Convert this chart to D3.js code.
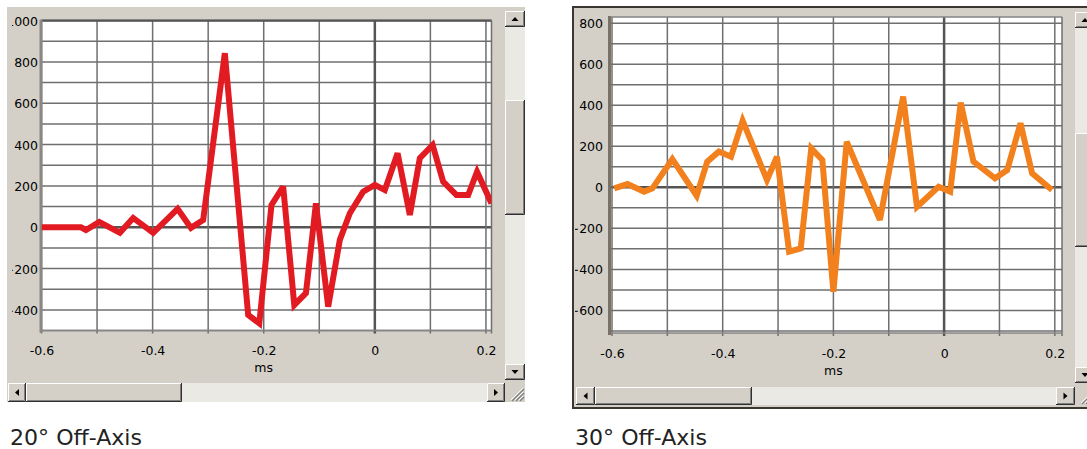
<!DOCTYPE html>
<html><head><meta charset="utf-8">
<script src="https://cdn.jsdelivr.net/npm/d3@7"></script>
<style>
html,body{margin:0;padding:0;background:#fff;}
svg{display:block;}
</style></head>
<body>
<svg id="c" width="1087" height="449"></svg>
<script>
// ---------- data ----------
const redX = [-0.6, -0.529, -0.52, -0.496, -0.459, -0.435, -0.399, -0.355, -0.331, -0.309, -0.27, -0.228, -0.208, -0.186, -0.165, -0.145, -0.124, -0.106, -0.084, -0.063, -0.045, -0.021, 0.0, 0.018, 0.041, 0.063, 0.081, 0.104, 0.123, 0.147, 0.168, 0.184, 0.21];
const redY = [0, 0, -13, 26, -27, 45, -27, 89, -3, 35, 842, -424, -465, 108, 197, -376, -319, 116, -384, -61, 68, 172, 205, 180, 358, 60, 334, 398, 221, 156, 156, 269, 115];

const orangeX = [-0.596, -0.572, -0.542, -0.527, -0.491, -0.447, -0.428, -0.407, -0.385, -0.364, -0.320, -0.302, -0.280, -0.259, -0.240, -0.220, -0.200, -0.176, -0.116, -0.074, -0.049, -0.010, 0.011, 0.030, 0.053, 0.092, 0.114, 0.138, 0.159, 0.195];
const orangeY = [-5, 16, -21, -5, 137, -41, 125, 174, 149, 325, 36, 149, -314, -298, 190, 133, -509, 222, -159, 442, -95, 3, -21, 413, 125, 44, 84, 312, 68, -13];

const xTickValues = [-0.6, -0.4, -0.2, 0, 0.2];
const xTickLabels = ["-0.6", "-0.4", "-0.2", "0", "0.2"];
const leftYTicks = [1000, 800, 600, 400, 200, 0, -200, -400];
const rightYTicks = [800, 600, 400, 200, 0, -200, -400, -600];
const xUnit = "ms";
const captions = ["20\u00B0 Off-Axis", "30\u00B0 Off-Axis"];

// ---------- drawing ----------
const svg = d3.select("#c");
const BEIGE = "#d4d0c8", TRACK = "#ebe9e3";
const FONT = "DejaVu Sans, Verdana, sans-serif";

function button(g, x, y, w, h, arrow) {
  const b = g.append("g");
  b.append("rect").attr("x", x).attr("y", y).attr("width", w).attr("height", h).attr("fill", BEIGE);
  b.append("path").attr("d", `M${x+0.5},${y+h-1}V${y+0.5}H${x+w-1}`).attr("stroke", "#fff").attr("fill", "none");
  b.append("path").attr("d", `M${x},${y+h-0.5}H${x+w-0.5}V${y}`).attr("stroke", "#303030").attr("fill", "none");
  b.append("path").attr("d", `M${x+1},${y+h-1.5}H${x+w-1.5}V${y+1}`).attr("stroke", "#808080").attr("fill", "none");
  const cx = x + w / 2, cy = y + h / 2;
  let p = null;
  if (arrow === "up") p = `M${cx-3.5},${cy+2}L${cx+3.5},${cy+2}L${cx},${cy-2}Z`;
  if (arrow === "down") p = `M${cx-3.5},${cy-2}L${cx+3.5},${cy-2}L${cx},${cy+2}Z`;
  if (arrow === "left") p = `M${cx+2},${cy-3.5}L${cx+2},${cy+3.5}L${cx-2},${cy}Z`;
  if (arrow === "right") p = `M${cx-2},${cy-3.5}L${cx-2},${cy+3.5}L${cx+2},${cy}Z`;
  if (p) b.append("path").attr("d", p).attr("fill", "#000");
}

function grip(g, x, y, w, h) {
  g.append("rect").attr("x", x).attr("y", y).attr("width", w).attr("height", h).attr("fill", BEIGE);
  for (let i = 0; i < 3; i++) {
    const o = 4 + i * 4;
    g.append("line").attr("x1", x + w - 2).attr("y1", y + h - 2 - o).attr("x2", x + w - 2 - o).attr("y2", y + h - 2)
      .attr("stroke", "#fff").attr("stroke-width", 1);
    g.append("line").attr("x1", x + w - 1).attr("y1", y + h - 1 - o).attr("x2", x + w - 1 - o).attr("y2", y + h - 1)
      .attr("stroke", "#808080").attr("stroke-width", 1.2);
  }
}

function chart(cfg) {
  const g = svg.append("g");
  const clipId = "clip" + cfg.id;
  svg.append("clipPath").attr("id", clipId).append("rect")
    .attr("x", cfg.panel[0]).attr("y", cfg.panel[1]).attr("width", cfg.panel[2]).attr("height", cfg.panel[3]);
  const pg = g.append("g").attr("clip-path", `url(#${clipId})`);

  pg.append("rect").attr("x", cfg.panel[0]).attr("y", cfg.panel[1]).attr("width", cfg.panel[2]).attr("height", cfg.panel[3])
    .attr("fill", BEIGE);

  const x = d3.scaleLinear().domain(cfg.xDomain).range([cfg.plot[0], cfg.plot[1]]);
  const y = d3.scaleLinear().domain(cfg.yDomain).range([cfg.plot[3], cfg.plot[2]]);
  const px0 = cfg.plot[0] - cfg.leftPad, px1 = cfg.plot[1], py0 = cfg.plot[2], py1 = cfg.plot[3];

  pg.append("rect").attr("x", px0).attr("y", py0).attr("width", px1 - px0).attr("height", py1 - py0).attr("fill", "#fff");

  const GRID = "#6f6f6f", ZERO = "#555";
  const yGrid = d3.range(-1000, 1100, 100).filter(v => v >= cfg.yDomain[0] - 1e-6 && v <= cfg.yDomain[1] + 1e-6);
  const xGrid = d3.range(-6, 3, 1).map(v => v / 10).filter(v => v >= cfg.xDomain[0] - 1e-6 && v <= cfg.xDomain[1] + 1e-6);
  const grid = pg.append("g");
  grid.selectAll("line.h").data(yGrid).join("line")
    .attr("x1", px0).attr("x2", px1)
    .attr("y1", d => y(d)).attr("y2", d => y(d))
    .attr("stroke", d => d === 0 ? ZERO : GRID)
    .attr("stroke-width", d => d === 0 ? 2.5 : 1.5);
  grid.selectAll("line.v").data(xGrid).join("line")
    .attr("x1", d => x(d)).attr("x2", d => x(d))
    .attr("y1", py0).attr("y2", py1 + 3)
    .attr("stroke", d => Math.abs(d) < 1e-9 ? ZERO : GRID)
    .attr("stroke-width", d => Math.abs(d) < 1e-9 ? 2.5 : 1.5);
  pg.append("line").attr("x1", px0).attr("x2", px1).attr("y1", py0).attr("y2", py0)
    .attr("stroke", cfg.topColor).attr("stroke-width", cfg.topWidth);
  pg.append("line").attr("x1", px1).attr("x2", px1).attr("y1", py0).attr("y2", py1 + 3)
    .attr("stroke", GRID).attr("stroke-width", 1.5);
  pg.append("line").attr("x1", px0).attr("x2", px1).attr("y1", py1).attr("y2", py1)
    .attr("stroke", "#858585").attr("stroke-width", 1.5);
  pg.append("rect").attr("x", px0 - 2).attr("y", py0 - 1).attr("width", 3).attr("height", py1 - py0 + 3)
    .attr("fill", cfg.leftBorder);

  // series
  const pts = cfg.xs.map((v, i) => [v, cfg.ys[i]]);
  const line = d3.line().x(d => x(d[0])).y(d => y(d[1]));
  const plotClip = "pclip" + cfg.id;
  svg.append("clipPath").attr("id", plotClip).append("rect")
    .attr("x", px0).attr("y", py0 - 6).attr("width", px1 - px0).attr("height", py1 - py0 + 12);
  pg.append("path").datum(pts).attr("d", line)
    .attr("clip-path", `url(#${plotClip})`)
    .attr("fill", "none").attr("stroke", cfg.color).attr("stroke-width", 6)
    .attr("stroke-linejoin", "miter").attr("stroke-miterlimit", 3).attr("stroke-linecap", "butt");

  // y axis labels (clipped on the left like the original window)
  const labClip = "lclip" + cfg.id;
  svg.append("clipPath").attr("id", labClip).append("rect")
    .attr("x", cfg.labelClipX).attr("y", 0).attr("width", 2000).attr("height", 449);
  const yAx = d3.axisLeft(y).tickValues(cfg.yTicks).tickFormat(d3.format("d")).tickSize(0).tickPadding(0);
  const ywrap = pg.append("g").attr("clip-path", `url(#${labClip})`);
  const ya = ywrap.append("g").attr("transform", `translate(${cfg.labelX},0)`).call(yAx);
  ya.select(".domain").remove();
  ya.selectAll("text").attr("font-family", FONT).attr("font-size", 12.5)
    .attr("fill", "#000").attr("dy", "0.36em");

  // x axis labels
  const xAx = d3.axisBottom(x).tickValues(xTickValues).tickFormat((d, i) => xTickLabels[i]).tickSize(0).tickPadding(0);
  const xa = pg.append("g").attr("transform", `translate(0,${cfg.xLabelY})`).call(xAx);
  xa.select(".domain").remove();
  xa.selectAll("text").attr("font-family", FONT).attr("font-size", 12.5)
    .attr("fill", "#000").attr("dy", "0.36em").attr("y", 0);
  pg.append("text").attr("x", x(-0.2)).attr("y", cfg.xLabelY + 17).attr("dy", "0.36em")
    .attr("text-anchor", "middle").attr("font-family", FONT).attr("font-size", 12.5)
    .attr("fill", "#000").text(xUnit);

  // scrollbars
  const s = cfg.sb;
  pg.append("rect").attr("x", s.vx).attr("y", s.vTop).attr("width", s.vw).attr("height", s.vBot - s.vTop).attr("fill", TRACK);
  button(pg, s.vx, s.vTop - s.btn, s.vw, s.btn, "up");
  button(pg, s.vx, s.thumbV[0], s.vw, s.thumbV[1] - s.thumbV[0], null);
  button(pg, s.vx, s.vBot, s.vw, s.btn, "down");
  pg.append("rect").attr("x", s.hLeft).attr("y", s.hy).attr("width", s.hRight - s.hLeft).attr("height", s.hh).attr("fill", TRACK);
  button(pg, s.hLeft - s.btnW, s.hy, s.btnW, s.hh, "left");
  button(pg, s.thumbH[0], s.hy, s.thumbH[1] - s.thumbH[0], s.hh, null);
  button(pg, s.hRight, s.hy, s.btnW, s.hh, "right");
  grip(pg, s.vx, s.hy, s.vw, s.hh);

  if (cfg.frame) {
    g.append("rect").attr("x", cfg.panel[0] - 1).attr("y", cfg.panel[1] - 1)
      .attr("width", cfg.panel[2] + 2).attr("height", cfg.panel[3] + 2)
      .attr("fill", "none").attr("stroke", "#3a3630").attr("stroke-width", 2);
  }

  svg.append("text").attr("x", cfg.capX).attr("y", 445)
    .attr("font-family", "DejaVu Sans, sans-serif").attr("font-size", 21)
    .attr("textLength", 132).attr("lengthAdjust", "spacingAndGlyphs")
    .attr("fill", "#222").text(cfg.caption);
}

chart({
  id: "L", panel: [7, 7, 518, 395],
  plot: [41.5, 491.5, 20.6, 330.6], leftPad: 0,
  xDomain: [-0.6, 0.21], yDomain: [-500, 1000],
  xs: redX, ys: redY, color: "#e21b22",
  yTicks: leftYTicks, labelX: 38, labelClipX: 12, xLabelY: 350,
  topColor: "#555", topWidth: 2.4, leftBorder: "#8c8881",
  sb: { vx: 505, vw: 20, vTop: 27, vBot: 364, btn: 16, thumbV: [100, 215],
        hy: 383, hh: 19, hLeft: 26, hRight: 487, btnW: 18, thumbH: [26, 182] },
  frame: false, capX: 10, caption: captions[0]
});

chart({
  id: "R", panel: [574, 8, 520, 399],
  plot: [612, 1062, 17, 333], leftPad: 2,
  xDomain: [-0.6, 0.213], yDomain: [-710, 830],
  xs: orangeX, ys: orangeY, color: "#f2801c",
  yTicks: rightYTicks, labelX: 603, labelClipX: 575, xLabelY: 353,
  topColor: "#858585", topWidth: 1.5, leftBorder: "#7a7264",
  sb: { vx: 1075, vw: 20, vTop: 28, vBot: 367, btn: 16, thumbV: [133, 247],
        hy: 387, hh: 18, hLeft: 595, hRight: 1056, btnW: 19, thumbH: [595, 752] },
  frame: true, capX: 575, caption: captions[1]
});
</script>
</body></html>
